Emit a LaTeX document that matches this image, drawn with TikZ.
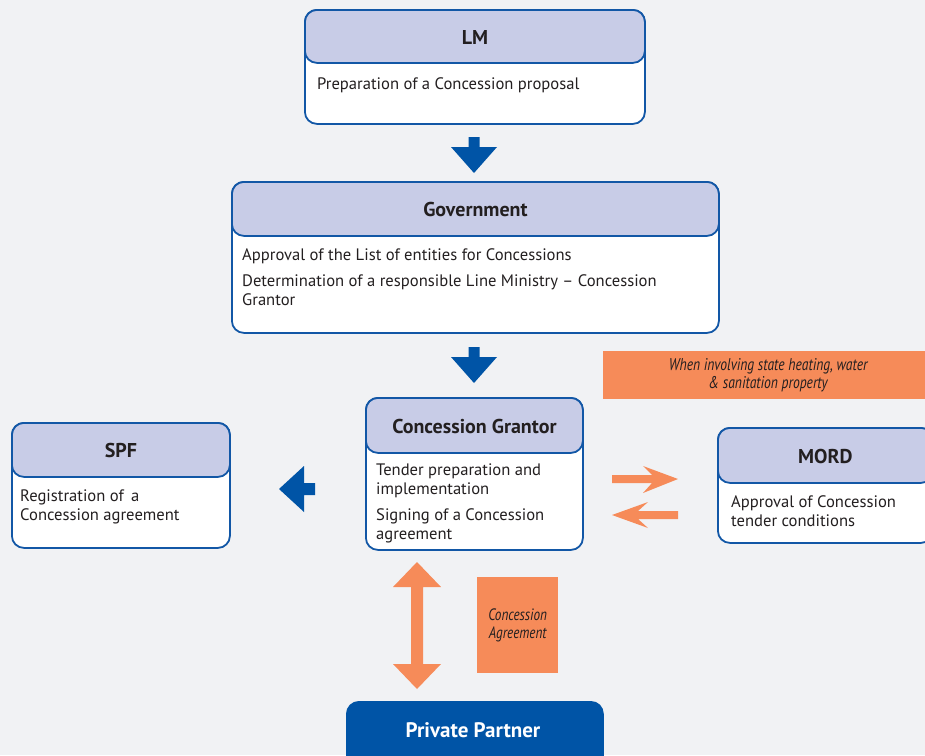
\documentclass[tikz,border=0pt]{standalone}
\usepackage{fontspec}
\setmainfont{PT Sans}
\newfontfamily\narrowfont[FakeStretch = 0.8]{PT Sans}

\definecolor{bgcolor}{HTML}{F1F2F4}
\definecolor{boxblue}{HTML}{1257A6}
\definecolor{headfill}{HTML}{C8CCE7}
\definecolor{arrowblue}{HTML}{0054A6}
\definecolor{notefill}{HTML}{F68B59}
\definecolor{textdark}{HTML}{231F20}

\begin{document}
\begin{tikzpicture}[x = 1pt, y = -1pt,
	box/.style = {draw = boxblue, line width = 1.8pt, rounded corners = 12pt, fill = white, anchor = north west, inner sep = 0pt},
	head/.style = {box, fill = headfill, font = \fontsize{20}{24}\selectfont\bfseries, text = textdark, text height = 16pt, text depth = 0pt},
	body/.style = {anchor = base west, align = left, inner sep = 0pt, font = \fontsize{16.6}{19}\selectfont, text = textdark},
	note/.style = {fill = notefill, inner sep = 0pt, anchor = north west, align = center, font = \narrowfont\itshape\fontsize{17}{18}\selectfont, text = textdark}]

	% Background
	
	\clip (0, 0) rectangle (925, 755);
	\fill [bgcolor] (0, 0) rectangle (925, 755);
	
	% LM
	
	\node [box, minimum width = 340, minimum height = 114] (lm) at (304, 9) {};
	\node [head, minimum width = 340, minimum height = 53] (lmhead) at (304, 9) {LM};
	\node [body] (lmtext) at (317, 89) {Preparation of a Concession proposal};
	
	% Government
	
	\node [box, minimum width = 487, minimum height = 151] (gov) at (231, 181) {};
	\node [head, minimum width = 487, minimum height = 54] (govhead) at (231, 181) {Government};
	\node [body] (govtext) at (242, 305) {Approval of the List of entities for Concessions\\[7pt]
		Determination of a responsible Line Ministry -- Concession\\Grantor};
	
	% Concession Grantor
	
	\node [box, minimum width = 217, minimum height = 152] (grantor) at (365, 397) {};
	\node [head, minimum width = 217, minimum height = 55] (grantorhead) at (365, 397) {Concession Grantor};
	\node [body] (grantortext) at (376, 539) {Tender preparation and\\implementation\\[7pt]
		Signing of a Concession\\agreement};
	
	% SPF
	
	\node [box, minimum width = 218, minimum height = 125] (spf) at (11, 422) {};
	\node [head, minimum width = 218, minimum height = 54] (spfhead) at (11, 422) {SPF};
	\node [body] (spftext) at (20, 520) {Registration of\, a\\Concession agreement};
	
	% MORD
	
	\node [box, minimum width = 215, minimum height = 115] (mord) at (717, 427) {};
	\node [head, minimum width = 215, minimum height = 55] (mordhead) at (717, 427) {MORD};
	\node [body] (mordtext) at (731, 526) {Approval of Concession\\tender conditions};
	
	% Private Partner
	
	\node [box, draw = arrowblue, fill = arrowblue, minimum width = 256, minimum height = 80] (partner) at (346, 701) {};
	\node [anchor = base, inner sep = 0pt, text = white, font = \fontsize{21}{24}\selectfont\bfseries] (partnertext) at (473, 737) {Private Partner};
	
	% Orange notes
	
	\node [note, minimum width = 330, minimum height = 48] (heating) at (603, 351) {When involving state heating, water\\\& sanitation property};
	\node [note, font = \narrowfont\itshape\fontsize{16.5}{18}\selectfont, minimum width = 81, minimum height = 96] (agreement) at (477, 577) {Concession\\Agreement};
	
	% Blue block arrows
	
	\fill [arrowblue] (468.5, 137) -- (479.5, 137) -- (479.5, 147) -- (497, 147) -- (474, 173) -- (451, 147) -- (468.5, 147) -- cycle;
	\fill [arrowblue] (468.5, 347) -- (479.5, 347) -- (479.5, 357) -- (497, 357) -- (474, 383) -- (451, 357) -- (468.5, 357) -- cycle;
	\fill [arrowblue] (315, 483) -- (315, 495) -- (304, 495) -- (304, 512) -- (279, 489) -- (304, 466) -- (304, 483) -- cycle;
	
	% Orange arrows
	
	\fill [notefill] (612, 475) -- (652, 475) -- (643, 466) -- (678, 479) -- (643, 493) -- (652, 483) -- (612, 483) -- cycle;
	\fill [notefill] (678, 511) -- (638, 511) -- (648, 502) -- (612, 515) -- (648, 528) -- (638, 519) -- (678, 519) -- cycle;
	\fill [notefill] (417, 562) -- (441, 587) -- (423, 587) -- (423, 664) -- (441, 664) -- (417, 689) -- (393, 664) -- (411, 664) -- (411, 587) -- (393, 587) -- cycle;
	
\end{tikzpicture}
\end{document}
